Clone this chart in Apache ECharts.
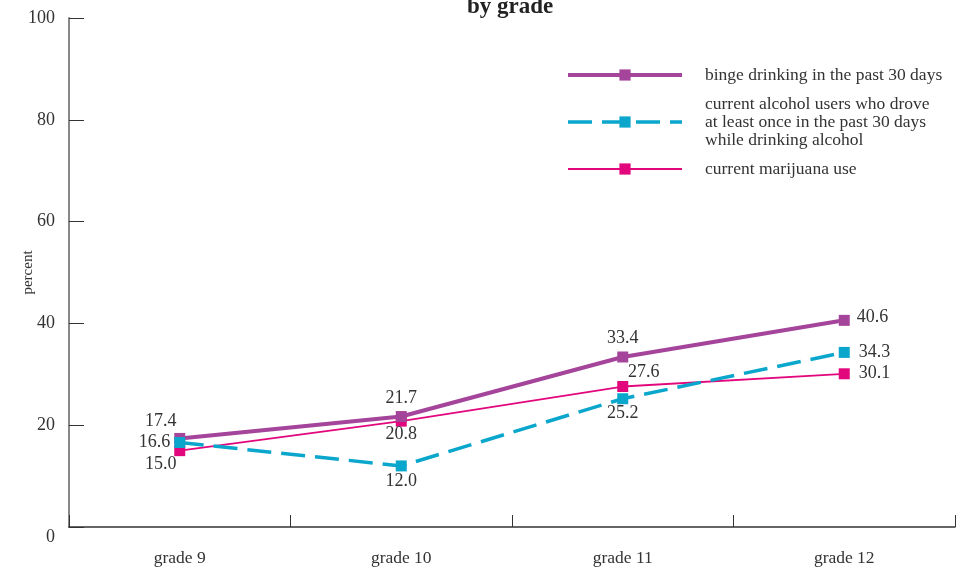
<!DOCTYPE html>
<html>
<head>
<meta charset="utf-8">
<script src="https://cdn.jsdelivr.net/npm/echarts@6/dist/echarts.min.js"></script>
<style>
  html, body { margin: 0; padding: 0; background: #fff; }
  #chart { width: 959px; height: 569px; }
</style>
</head>
<body>
<div id="chart"></div>
<script>
// Grade categories and the three survey measures (percent of students)
const grades = ['grade 9', 'grade 10', 'grade 11', 'grade 12'];
const bingeDrinking = [17.4, 21.7, 33.4, 40.6];
const droveWhileDrinking = [16.6, 12.0, 25.2, 34.3];
const marijuanaUse = [15.0, 20.8, 27.6, 30.1];
const yTicks = [0, 20, 40, 60, 80, 100];

const seriesNames = [
  'binge drinking in the past 30 days',
  'current alcohol users who drove\nat least once in the past 30 days\nwhile drinking alcohol',
  'current marijuana use'
];

const FONT = '"Liberation Serif", "DejaVu Serif", serif';
const TEXT = '#333';

const PURPLE = '#a4449a';
const CYAN = '#0aa6cc';
const PINK = '#e2077c';

// Per-point label placement for each series
const bingeLabels = [
  { position: 'top', offset: [-19, 2] },
  { position: 'top', offset: [0, 1] },
  { position: 'top', offset: [0, 1] },
  { position: 'right', offset: [2, -3] }
];
const droveLabels = [
  { position: 'left', offset: [1, 0] },
  { position: 'bottom', offset: [0, -4] },
  { position: 'bottom', offset: [0, -5] },
  { position: 'right', offset: [4, 0] }
];
const marijuanaLabels = [
  { position: 'bottom', offset: [-19, -6] },
  { position: 'bottom', offset: [0, -6] },
  { position: 'top', offset: [21, 5] },
  { position: 'right', offset: [4, -1] }
];

function withLabels(values, labels) {
  return values.map((v, i) => ({ value: v, label: labels[i] }));
}

const labelBase = {
  show: true,
  color: TEXT,
  fontFamily: FONT,
  fontSize: 18,
  distance: 5,
  formatter: p => p.value.toFixed(1)
};

const chart = echarts.init(document.getElementById('chart'));
chart.setOption({
  animation: false,
  backgroundColor: '#fff',
  title: {
    text: 'by grade',
    left: 467,
    top: -4,
    padding: 0,
    textStyle: { fontFamily: FONT, fontSize: 23, fontWeight: 'bold', color: '#222' }
  },
  grid: { left: 69, right: 4, top: 18, bottom: 42, outerBoundsMode: 'none', containLabel: false },
  legend: {
    orient: 'vertical',
    left: 566,
    top: 66,
    padding: 0,
    itemWidth: 114,
    itemHeight: 14,
    itemGap: 11,
    data: [
      { name: seriesNames[0], lineStyle: { width: 4, color: PURPLE } },
      { name: seriesNames[1], lineStyle: { width: 3.5, color: CYAN, type: [24, 10] } },
      { name: seriesNames[2], lineStyle: { width: 1.8, color: PINK } }
    ],
    textStyle: {
      fontFamily: FONT,
      fontSize: 17.5,
      color: TEXT,
      lineHeight: 18,
      padding: [0, 0, 0, 18]
    }
  },
  xAxis: {
    type: 'category',
    data: grades,
    boundaryGap: true,
    axisLine: { lineStyle: { color: '#333', width: 1.5 } },
    axisTick: { show: true, inside: true, length: 12, lineStyle: { color: '#333' } },
    axisLabel: { color: TEXT, fontFamily: FONT, fontSize: 17.5, margin: 22 },
    splitLine: { show: false }
  },
  yAxis: {
    type: 'value',
    min: yTicks[0],
    max: yTicks[yTicks.length - 1],
    interval: 20,
    name: 'percent',
    nameLocation: 'middle',
    nameGap: 33,
    nameRotate: 90,
    nameMoveOverlap: false,
    nameTextStyle: { color: TEXT, fontFamily: FONT, fontSize: 15 },
    axisLine: { show: true, lineStyle: { color: '#888', width: 2 } },
    axisTick: { show: true, inside: true, length: 15, lineStyle: { color: '#333' } },
    axisLabel: {
      color: TEXT,
      fontFamily: FONT,
      fontSize: 18,
      margin: 14,
      formatter: v => (v === 0 ? '{zero|0}' : String(v)),
      rich: {
        zero: { color: TEXT, fontFamily: FONT, fontSize: 18, padding: [20, 0, 0, 0] }
      }
    },
    splitLine: { show: false }
  },
  series: [
    {
      name: seriesNames[0],
      type: 'line',
      z: 3,
      data: withLabels(bingeDrinking, bingeLabels),
      symbol: 'rect',
      symbolSize: 11,
      color: PURPLE,
      lineStyle: { width: 4, color: PURPLE },
      itemStyle: { color: PURPLE },
      label: labelBase
    },
    {
      name: seriesNames[1],
      type: 'line',
      z: 4,
      data: withLabels(droveWhileDrinking, droveLabels),
      symbol: 'rect',
      symbolSize: 11,
      color: CYAN,
      lineStyle: { width: 3.5, color: CYAN, type: [24, 10] },
      itemStyle: { color: CYAN },
      label: labelBase
    },
    {
      name: seriesNames[2],
      type: 'line',
      z: 2,
      data: withLabels(marijuanaUse, marijuanaLabels),
      symbol: 'rect',
      symbolSize: 11,
      color: PINK,
      lineStyle: { width: 1.8, color: PINK },
      itemStyle: { color: PINK },
      label: labelBase
    }
  ]
});
</script>
</body>
</html>
